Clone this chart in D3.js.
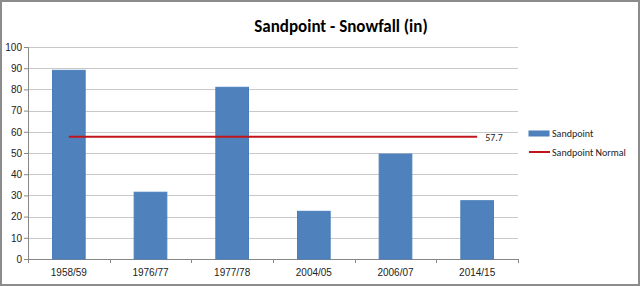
<!DOCTYPE html>
<html>
<head>
<meta charset="utf-8">
<script src="https://cdn.jsdelivr.net/npm/d3@7"></script>
<style>
  html, body { margin: 0; padding: 0; background: #fff; }
  svg { display: block; font-family: Carlito, Lato, "Liberation Sans", sans-serif; }
</style>
</head>
<body>
<div class="chart"></div>
<script>
// data
const seasons = ["1958/59", "1976/77", "1977/78", "2004/05", "2006/07", "2014/15"];
const snowfall = [89, 31.5, 81, 22.5, 49.5, 27.5];
const normal = 57.7;
const yTicks = [0, 10, 20, 30, 40, 50, 60, 70, 80, 90, 100];

const svgWidth = 640;
const svgHeight = 286;
const margin = { top: 47, right: 122, bottom: 27, left: 28 };
const width = svgWidth - margin.left - margin.right;
const height = svgHeight - margin.top - margin.bottom;

const svg = d3.select(".chart")
  .append("svg")
  .attr("width", svgWidth)
  .attr("height", svgHeight);

// outer frame
svg.append("rect")
  .attr("x", 1).attr("y", 1)
  .attr("width", svgWidth - 2).attr("height", svgHeight - 2)
  .attr("fill", "#fff")
  .attr("stroke", "#8c8c8c")
  .attr("stroke-width", 2);

// title
svg.append("text")
  .attr("x", 341)
  .attr("y", 32)
  .attr("text-anchor", "middle")
  .attr("font-size", 17)
  .attr("font-weight", "bold")
  .attr("fill", "#000")
  .text("Sandpoint - Snowfall (in)");

const chartGroup = svg.append("g")
  .attr("transform", `translate(${margin.left}, ${margin.top})`);

// scales
const xScale = d3.scaleBand()
  .domain(seasons)
  .range([0, width])
  .paddingInner(0.6)
  .paddingOuter(0.3);

const xLine = d3.scaleBand()
  .domain(seasons)
  .range([0, width]);

const yScale = d3.scaleLinear()
  .domain([0, 100])
  .range([height, 0]);

// gridlines
chartGroup.selectAll(".grid")
  .data(yTicks)
  .enter()
  .append("line")
  .attr("x1", 0)
  .attr("x2", width)
  .attr("y1", d => Math.round(yScale(d)) + 0.5)
  .attr("y2", d => Math.round(yScale(d)) + 0.5)
  .attr("stroke", "#c8c8c8");

// y axis
const yAxis = d3.axisLeft(yScale)
  .tickValues(yTicks)
  .tickSize(4)
  .tickPadding(2);
const yG = chartGroup.append("g").call(yAxis);
yG.select(".domain").attr("stroke", "#878787");
yG.selectAll(".tick line").attr("stroke", "#878787");
yG.selectAll("text").attr("font-size", 10).attr("fill", "#222").attr("font-family", "inherit");

// x axis
const xAxis = d3.axisBottom(xLine)
  .tickSize(0)
  .tickPadding(10);
const xG = chartGroup.append("g")
  .attr("transform", `translate(0, ${height})`)
  .call(xAxis);
xG.select(".domain").attr("stroke", "#878787");
xG.selectAll("text").attr("font-size", 10).attr("fill", "#222").attr("font-family", "inherit");

// category tick marks at band boundaries
xG.selectAll(".sep")
  .data(d3.range(seasons.length + 1))
  .enter()
  .append("line")
  .attr("x1", i => Math.round(i * xLine.step()) + 0.5)
  .attr("x2", i => Math.round(i * xLine.step()) + 0.5)
  .attr("y1", 0)
  .attr("y2", 4)
  .attr("stroke", "#878787");

// bars
chartGroup.selectAll(".bar")
  .data(snowfall)
  .enter()
  .append("rect")
  .attr("x", (d, i) => xScale(seasons[i]))
  .attr("y", d => yScale(d))
  .attr("width", xScale.bandwidth())
  .attr("height", d => height - yScale(d))
  .attr("fill", "#4f81bd")
  .attr("stroke", "#4a7ebb")
  .attr("stroke-width", 1);

// normal line
const line = d3.line()
  .x(d => xLine(d) + xLine.bandwidth() / 2)
  .y(() => yScale(normal));

chartGroup.append("path")
  .attr("d", line(seasons))
  .attr("fill", "none")
  .attr("stroke", "#c0161b")
  .attr("stroke-width", 2);

chartGroup.append("text")
  .attr("x", xLine(seasons[seasons.length - 1]) + xLine.bandwidth() / 2 + 8)
  .attr("y", yScale(normal) + 4)
  .attr("font-size", 10)
  .attr("fill", "#222")
  .text(normal);

// legend
const legend = svg.append("g").attr("transform", "translate(529, 133)");
legend.append("rect")
  .attr("x", 0).attr("y", -2)
  .attr("width", 20).attr("height", 5)
  .attr("fill", "#4f81bd")
  .attr("stroke", "#4a7ebb");
legend.append("text")
  .attr("x", 23).attr("y", 4)
  .attr("font-size", 10).attr("fill", "#222")
  .text("Sandpoint");
legend.append("line")
  .attr("x1", 0).attr("x2", 21)
  .attr("y1", 19).attr("y2", 19)
  .attr("stroke", "#c0161b")
  .attr("stroke-width", 2);
legend.append("text")
  .attr("x", 23).attr("y", 23)
  .attr("font-size", 10).attr("fill", "#222")
  .text("Sandpoint Normal");
</script>
</body>
</html>
